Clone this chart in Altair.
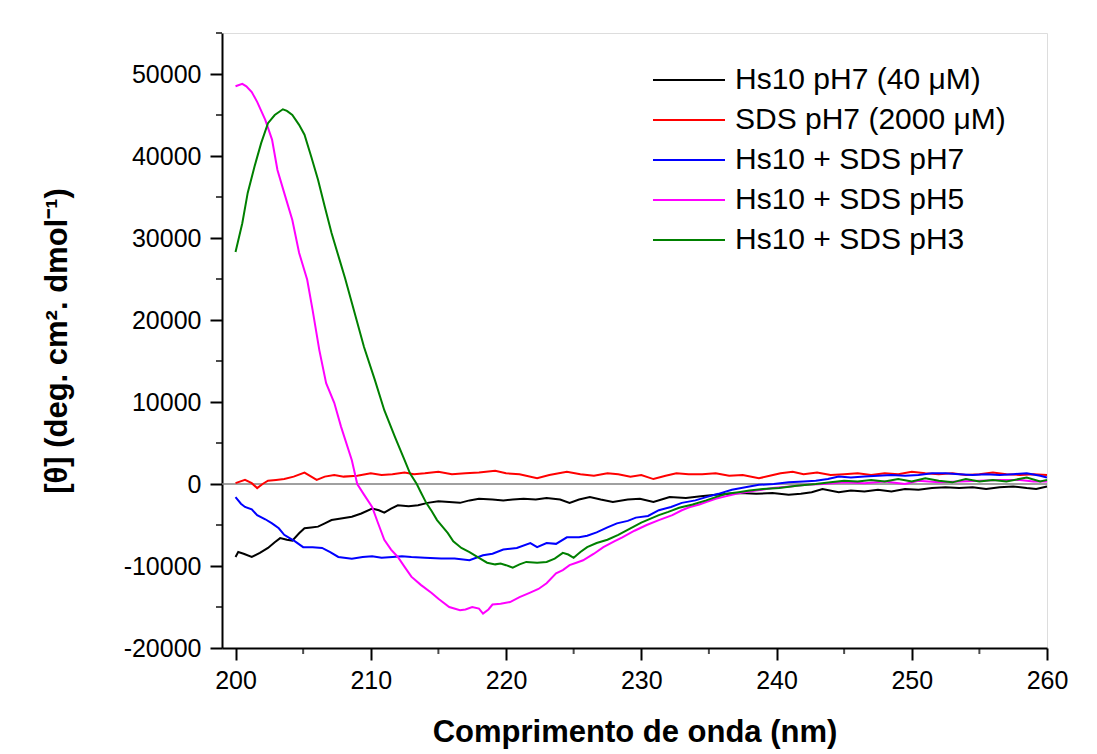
import altair as alt
import pandas as pd

# ---- data ----
names = ["Hs10 pH7 (40 μM)", "SDS pH7 (2000 μM)", "Hs10 + SDS pH7",
         "Hs10 + SDS pH5", "Hs10 + SDS pH3"]
colors = ["#000000", "#ff0000", "#0000ff", "#ff00ff", "#008000"]

hs10_x = [200.0, 200.2, 200.6, 201.2, 201.8, 202.4, 202.9, 203.3, 203.8, 204.2, 204.7, 205.1,
          205.6, 206.1, 206.6, 207.1, 207.8, 208.6, 209.3, 210.1, 210.6, 211.0, 211.5, 212.0,
          212.8, 213.5, 214.2, 215.0, 215.8, 216.6, 217.3, 218.0, 219.0, 219.8, 220.5, 221.3,
          222.2, 223.0, 224.0, 224.7, 225.4, 226.2, 227.0, 227.9, 229.0, 229.9, 230.9, 231.5,
          232.1, 233.3, 234.4, 235.5, 237.3, 238.5, 239.7, 240.9, 241.8, 242.6, 243.4, 244.6,
          245.5, 246.5, 247.5, 248.5, 249.5, 250.5, 251.5, 252.5, 253.5, 254.5, 255.5, 256.5,
          257.5, 258.5, 259.2, 260.0]
hs10_y = [-8900, -8300, -8500, -8900, -8400, -7800, -7100, -6600, -6800, -6900, -6000, -5400,
          -5300, -5200, -4800, -4400, -4200, -4000, -3600, -3000, -3200, -3500, -3000, -2600,
          -2700, -2600, -2300, -2100, -2200, -2300, -2000, -1800, -1900, -2000, -1900, -1800,
          -1900, -1700, -1900, -2300, -1900, -1600, -1900, -2200, -1900, -1800, -2200, -1900,
          -1600, -1700, -1500, -1300, -1100, -1200, -1100, -1300, -1200, -1000, -600, -1000,
          -800, -900, -700, -900, -600, -700, -500, -400, -500, -400, -600, -400,
          -300, -500, -600, -300]

sds_x = [200.0, 200.7, 201.2, 201.6, 202.0, 202.4, 203.0, 203.6, 204.3, 205.1, 205.6, 206.0,
         206.6, 207.3, 208.0, 209.0, 210.0, 210.8, 211.6, 212.5, 213.2, 214.0, 215.0, 216.0,
         217.0, 218.0, 219.2, 220.0, 221.0, 222.3, 223.2, 224.5, 225.5, 226.5, 227.5, 228.3,
         229.2, 230.0, 230.9, 231.8, 232.6, 233.5, 234.5, 235.5, 236.5, 237.5, 238.7, 239.5,
         240.3, 241.2, 242.0, 243.0, 244.0, 245.0, 246.0, 247.0, 248.0, 249.0, 250.0, 251.0,
         252.0, 253.0, 254.0, 255.0, 256.0, 257.0, 258.0, 259.0, 260.0]
sds_y = [100, 500, 100, -500, 0, 400, 500, 600, 900, 1400, 900, 500,
         900, 1100, 900, 1000, 1300, 1100, 1200, 1400, 1200, 1300, 1500, 1200,
         1300, 1400, 1600, 1300, 1200, 700, 1100, 1500, 1200, 1000, 1300, 1200,
         900, 1100, 600, 1000, 1300, 1200, 1200, 1300, 1000, 1100, 700, 1000,
         1300, 1500, 1200, 1400, 1100, 1200, 1300, 1100, 1300, 1200, 1500, 1300,
         1200, 1300, 1100, 1200, 1400, 1200, 1100, 1200, 1100]

ph7_x = [200.0, 200.4, 200.7, 201.2, 201.6, 202.2, 202.7, 203.2, 203.6, 204.0, 204.4, 205.0,
         205.7, 206.4, 207.0, 207.6, 208.6, 209.4, 210.1, 210.8, 211.6, 212.3, 213.0, 214.0,
         215.2, 216.2, 217.3, 218.3, 219.0, 219.8, 220.8, 221.8, 222.3, 223.0, 223.7, 224.5,
         225.4, 226.0, 226.7, 227.5, 228.2, 229.0, 229.6, 230.5, 231.3, 232.2, 233.0, 234.0,
         234.8, 235.7, 236.7, 237.7, 238.7, 239.8, 240.9, 242.0, 242.9, 243.8, 244.6, 245.5,
         246.5, 247.5, 248.5, 249.5, 250.5, 251.5, 252.5, 253.5, 254.5, 255.5, 256.5, 257.5,
         258.5, 259.5, 260.0]
ph7_y = [-1600, -2400, -2800, -3100, -3800, -4300, -4800, -5400, -6200, -6600, -7000, -7700,
         -7700, -7800, -8300, -8900, -9100, -8900, -8800, -9000, -8900, -8800, -8900, -9000,
         -9100, -9100, -9300, -8700, -8500, -8000, -7800, -7200, -7700, -7200, -7300, -6500,
         -6500, -6300, -5900, -5300, -4800, -4500, -4100, -3900, -3200, -2800, -2300, -2000,
         -1600, -1200, -700, -400, -100, 0, 200, 300, 400, 600, 900, 800,
         900, 1000, 1100, 1000, 1100, 1300, 1300, 1200, 1100, 1200, 1100, 1200,
         1300, 1000, 800]

ph5_x = [200.0, 200.5, 200.8, 201.2, 201.6, 202.2, 202.7, 203.1, 203.6, 204.2, 204.7, 205.3,
         205.7, 206.2, 206.7, 207.3, 207.8, 208.6, 209.0, 209.5, 210.1, 210.5, 211.0, 211.5,
         212.0, 212.5, 213.0, 213.7, 214.5, 215.0, 215.8, 216.6, 217.0, 217.5, 218.0, 218.3,
         218.7, 219.0, 219.6, 220.3, 221.0, 221.7, 222.4, 223.0, 223.7, 224.2, 224.7, 225.2,
         225.7, 226.5, 227.2, 228.0, 228.6, 229.5, 230.4, 231.3, 232.3, 233.0, 233.6, 234.3,
         234.8, 235.5, 236.0, 236.7, 237.3, 238.5, 239.7, 241.0, 242.2, 243.5, 245.0, 246.5,
         248.0, 249.5, 250.5, 252.0, 253.5, 255.0, 256.5, 258.0, 259.0, 260.0]
ph5_y = [48500, 48800, 48500, 47800, 46600, 44400, 42000, 38300, 35500, 32200, 28200, 24900,
         21200, 16300, 12300, 9900, 7000, 2900, 0, -1300, -2800, -4600, -6800, -8000,
         -8900, -10100, -11300, -12300, -13300, -14000, -15000, -15400, -15300, -15000, -15200, -15800,
         -15300, -14700, -14600, -14400, -13800, -13300, -12800, -12100, -10900, -10500, -9900, -9600,
         -9300, -8500, -7700, -7000, -6500, -5700, -5000, -4400, -3800, -3200, -2800, -2500,
         -2200, -1800, -1600, -1300, -1100, -800, -500, -300, -100, 0, 200, 100,
         300, 0, 400, 200, 300, 400, 500, 500, 300, 300]

ph3_x = [200.0, 200.5, 200.9, 201.4, 201.9, 202.4, 202.9, 203.5, 203.8, 204.2, 204.7, 205.1,
         205.6, 206.1, 206.6, 207.1, 207.7, 208.1, 208.6, 209.5, 210.3, 211.0, 211.8, 212.5,
         212.9, 213.4, 213.7, 214.1, 214.5, 214.9, 215.3, 215.7, 216.1, 216.7, 217.3, 218.0,
         218.6, 219.2, 219.6, 220.0, 220.5, 221.0, 221.5, 222.3, 223.0, 223.6, 224.2, 224.6,
         225.0, 225.5, 226.0, 226.7, 227.5, 228.3, 229.2, 230.0, 231.3, 232.0, 232.8, 233.8,
         234.8, 235.5, 236.3, 237.2, 238.0, 239.0, 240.2, 241.5, 242.9, 244.0, 245.0, 246.0,
         247.0, 248.0, 249.0, 250.0, 251.0, 252.0, 253.0, 254.0, 255.0, 256.0, 257.0, 258.5,
         259.5, 260.0]
ph3_y = [28300, 31800, 35500, 38700, 41600, 44000, 45000, 45700, 45500, 45000, 43800, 42600,
         39900, 37100, 33800, 30600, 27300, 25100, 22100, 16700, 12700, 9000, 5700, 2900,
         1300, 0, -1000, -2300, -3300, -4400, -5200, -6000, -7000, -7800, -8300, -9000,
         -9600, -9800, -9700, -9900, -10200, -9800, -9500, -9600, -9500, -9100, -8400, -8600,
         -9000, -8300, -7700, -7200, -6800, -6200, -5400, -4700, -3800, -3400, -2900, -2500,
         -2000, -1600, -1200, -1000, -800, -600, -500, -200, 0, 200, 400, 300,
         500, 300, 600, 300, 700, 400, 200, 600, 300, 500, 300, 800,
         300, 500]

x_major = [200, 210, 220, 230, 240, 250, 260]
x_minor = [205, 215, 225, 235, 245, 255]
y_major = [-20000, -10000, 0, 10000, 20000, 30000, 40000, 50000]
y_minor = [-15000, -5000, 5000, 15000, 25000, 35000, 45000, 55000]

# ---- build table ----
series = [(hs10_x, hs10_y), (sds_x, sds_y), (ph7_x, ph7_y), (ph5_x, ph5_y), (ph3_x, ph3_y)]
rows = []
for n, (xs, ys) in zip(names, series):
    for i, (a, b) in enumerate(zip(xs, ys)):
        rows.append({"wl": a, "theta": b, "serie": n, "i": i})
df = pd.DataFrame(rows)

FONT = "Liberation Sans"
xscale = alt.Scale(domain=[199, 260], nice=False, zero=False)
yscale = alt.Scale(domain=[-20000, 55000], nice=False, zero=False)

zero = alt.Chart(pd.DataFrame({"z": [0]})).mark_rule(color="#808080", strokeWidth=1.5).encode(
    y=alt.Y("z:Q", scale=yscale)
)

lines = alt.Chart(df).mark_line(strokeWidth=2, interpolate="linear").encode(
    x=alt.X("wl:Q", scale=xscale,
            axis=alt.Axis(values=x_major, title="Comprimento de onda (nm)", grid=False,
                          labelExpr="datum.value", tickSize=12, tickWidth=2, tickColor="black",
                          domainColor="black", domainWidth=2, labelFontSize=25,
                          labelFont=FONT, labelColor="black", labelPadding=8,
                          titleFont=FONT, titleFontSize=31, titleFontWeight="bold",
                          titleColor="black", titlePadding=24, labelFlush=False)),
    y=alt.Y("theta:Q", scale=yscale,
            axis=alt.Axis(values=y_major, title="[θ] (deg. cm². dmol⁻¹)", grid=False,
                          labelExpr="datum.value", tickSize=12, tickWidth=2, tickColor="black",
                          domainColor="black", domainWidth=2, labelFontSize=25,
                          labelFont=FONT, labelColor="black", labelPadding=9,
                          titleFont=FONT, titleFontSize=31, titleFontWeight="bold",
                          titleColor="black", titlePadding=50, labelFlush=False)),
    color=alt.Color("serie:N", sort=names,
                    scale=alt.Scale(domain=names, range=colors),
                    legend=alt.Legend(title=None, orient="none", legendX=430, legendY=27,
                                      symbolType="stroke", symbolSize=5184,
                                      symbolStrokeWidth=2, labelFontSize=30,
                                      labelFont=FONT, labelColor="black",
                                      labelOffset=9, rowPadding=0, padding=0,
                                      clipHeight=40, labelLimit=400)),
    order="i:Q",
    detail="serie:N",
)

xminor = alt.Chart(pd.DataFrame({"v": x_minor})).mark_tick(
    color="black", thickness=2, size=6, orient="vertical").encode(
    x=alt.X("v:Q", scale=xscale),
    y=alt.value(618)
)
yminor = alt.Chart(pd.DataFrame({"v": y_minor})).mark_tick(
    color="black", thickness=2, size=6, orient="horizontal").encode(
    y=alt.Y("v:Q", scale=yscale),
    x=alt.value(-3)
)

chart = alt.layer(zero, lines, xminor, yminor).properties(
    width=825, height=615,
    autosize=alt.AutoSizeParams(type="none"),
    padding={"left": 222, "top": 33, "right": 50, "bottom": 106},
).configure_view(stroke="black", strokeWidth=2).configure(background="white")

chart.save("out.html", embed_options={"renderer": "svg", "actions": False})
